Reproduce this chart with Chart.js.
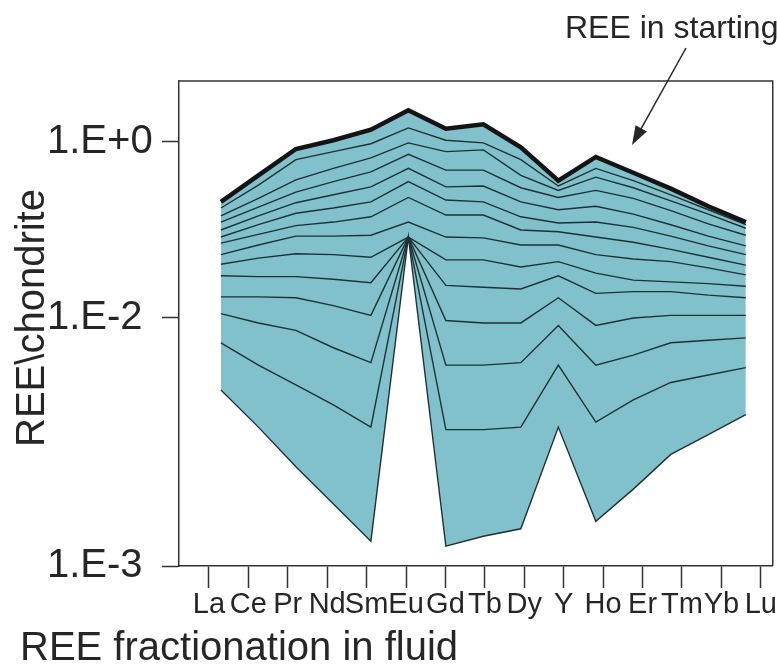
<!DOCTYPE html>
<html lang="en">
<head>
<meta charset="UTF-8">
<title>REE fractionation in fluid</title>
<script src="https://cdn.jsdelivr.net/npm/chart.js@4.4.1/dist/chart.umd.min.js"></script>
<style>
  html, body { margin: 0; padding: 0; background: #fff; }
  #wrap { width: 777px; height: 669px; }
</style>
</head>
<body>
<div id="wrap"><canvas id="myChart" width="777" height="669"></canvas></div>
<script>
// elements on the x axis
var elements = ['La', 'Ce', 'Pr', 'Nd', 'Sm', 'Eu', 'Gd', 'Tb', 'Dy', 'Y', 'Ho', 'Er', 'Tm', 'Yb', 'Lu'];

// log10(REE/chondrite)
var startingFluid = [-0.68, -0.38, -0.08, 0.02, 0.14, 0.36, 0.15, 0.20, -0.06, -0.44, -0.17, -0.35, -0.53, -0.73, -0.91];
var step1  = [-0.75, -0.49, -0.20, -0.11, -0.02, 0.16, 0.02, -0.01, -0.20, -0.50, -0.30, -0.44, -0.60, -0.77, -0.94];
var step2  = [-0.84, -0.64, -0.43, -0.30, -0.18, -0.01, -0.11, -0.09, -0.38, -0.55, -0.40, -0.52, -0.67, -0.82, -0.98];
var step3  = [-0.91, -0.74, -0.57, -0.45, -0.34, -0.14, -0.32, -0.32, -0.52, -0.63, -0.55, -0.64, -0.78, -0.93, -1.06];
var step4  = [-1.00, -0.84, -0.69, -0.60, -0.51, -0.30, -0.51, -0.50, -0.68, -0.77, -0.73, -0.82, -0.94, -1.07, -1.18];
var step5  = [-1.08, -0.94, -0.81, -0.75, -0.68, -0.45, -0.66, -0.68, -0.85, -0.92, -0.91, -0.97, -1.07, -1.18, -1.28];
var step6  = [-1.15, -1.05, -0.95, -0.91, -0.85, -0.63, -0.83, -0.83, -1.00, -1.02, -1.08, -1.14, -1.22, -1.31, -1.40];
var step7  = [-1.28, -1.17, -1.07, -1.07, -1.06, -0.91, -1.08, -1.09, -1.17, -1.17, -1.28, -1.33, -1.36, -1.43, -1.51];
var step8  = [-1.39, -1.32, -1.27, -1.28, -1.31, -1.08, -1.34, -1.34, -1.42, -1.36, -1.49, -1.57, -1.59, -1.61, -1.64];
var step9  = [-1.52, -1.53, -1.53, -1.56, -1.60, -1.08, -1.63, -1.65, -1.67, -1.52, -1.72, -1.70, -1.70, -1.74, -1.77];
var step10 = [-1.76, -1.76, -1.77, -1.86, -1.97, -1.08, -2.01, -2.02, -2.02, -1.77, -2.03, -2.00, -1.97, -1.97, -1.97];
var step11 = [-1.95, -2.02, -2.05, -2.12, -2.18, -1.08, -2.19, -2.19, -2.18, -2.03, -2.19, -2.15, -2.10, -2.09, -2.08];
var step12 = [-2.10, -2.19, -2.27, -2.35, -2.44, -1.08, -2.45, -2.45, -2.44, -2.19, -2.42, -2.33, -2.26, -2.23, -2.20];
var lastStep = [-2.29, -2.44, -2.60, -2.75, -2.90, -1.08, -2.92, -2.88, -2.85, -2.44, -2.82, -2.69, -2.55, -2.47, -2.39];

var yTickValues = [-3, -2, 0];
var yTickLabels = ['1.E-3', '1.E-2', '1.E+0'];

// the figure draws the 1E-2..1E-3 decade much taller than the upper ones
var LOW_STRETCH = 248 / 88;
function toAxis(v) {
    return v >= -2 ? v : -2 + (v + 2) * LOW_STRETCH;
}

var steps = [step1, step2, step3, step4, step5, step6, step7, step8, step9, step10, step11, step12];
var fillColor = '#80c1cb';
var lineColor = '#1e3236';
var font = 'Liberation Sans, Arial, sans-serif';

function pts(arr) {
    return arr.map(function (v, i) { return {x: i, y: toAxis(v)}; });
}

var datasets = [];
datasets.push({
    data: pts(startingFluid),
    borderColor: '#141414',
    borderWidth: 4.5,
    backgroundColor: fillColor,
    fill: steps.length + 1
});
steps.forEach(function (s) {
    datasets.push({data: pts(s), borderColor: lineColor, borderWidth: 1.4, fill: false});
});
datasets.push({data: pts(lastStep), borderColor: lineColor, borderWidth: 1.4, fill: false});
datasets.forEach(function (d) {
    d.xAxisID = 'x';
    d.yAxisID = 'y';
    d.pointRadius = 0;
    d.tension = 0;
    d.borderJoinStyle = 'miter';
});

var extras = {
    id: 'extras',
    afterDraw: function (chart) {
        var c = chart.ctx, a = chart.chartArea;
        c.save();
        // top and right side of the frame
        c.strokeStyle = '#333';
        c.lineWidth = 1.5;
        c.beginPath();
        c.moveTo(a.left, a.top);
        c.lineTo(a.right, a.top);
        c.lineTo(a.right, a.bottom);
        c.stroke();

        c.fillStyle = '#262626';
        c.font = '40px ' + font;
        c.textBaseline = 'alphabetic';
        c.textAlign = 'left';
        c.fillText('REE fractionation in fluid', 20, 660);

        c.save();
        c.translate(44, 318);
        c.rotate(-Math.PI / 2);
        c.textAlign = 'center';
        c.fillText('REE\\chondrite', 0, 0);
        c.restore();

        c.font = '32px ' + font;
        c.fillText('REE in starting', 565, 38);

        // arrow
        var x0 = 686, y0 = 48, x1 = 632, y1 = 145;
        var dx = x1 - x0, dy = y1 - y0, len = Math.sqrt(dx * dx + dy * dy);
        var ux = dx / len, uy = dy / len;
        c.strokeStyle = '#262626';
        c.lineWidth = 1.5;
        c.beginPath();
        c.moveTo(x0, y0);
        c.lineTo(x1 - ux * 14, y1 - uy * 14);
        c.stroke();
        c.beginPath();
        c.moveTo(x1, y1);
        c.lineTo(x1 - ux * 19 - uy * 6.5, y1 - uy * 19 + ux * 6.5);
        c.lineTo(x1 - ux * 19 + uy * 6.5, y1 - uy * 19 - ux * 6.5);
        c.closePath();
        c.fill();
        c.restore();
    }
};

new Chart(document.getElementById('myChart'), {
    type: 'line',
    data: {datasets: datasets},
    options: {
        responsive: false,
        animation: false,
        layout: {padding: {top: 81, right: 3, bottom: 0, left: 47}},
        plugins: {
            legend: {display: false},
            tooltip: {enabled: false},
            filler: {drawTime: 'beforeDatasetsDraw'}
        },
        scales: {
            x: {
                type: 'linear',
                display: false,
                min: -1.118,
                max: 14.719
            },
            xt: {
                type: 'linear',
                position: 'bottom',
                min: -0.7595,
                max: 14.3035,
                afterBuildTicks: function (s) {
                    s.ticks = elements.map(function (e, i) { return {value: i}; });
                },
                afterFit: function (s) { s.height = 103; },
                ticks: {
                    autoSkip: false,
                    maxRotation: 0,
                    padding: 0,
                    color: '#262626',
                    font: {family: font, size: 29},
                    callback: function (v, i) { return elements[i]; }
                },
                grid: {drawOnChartArea: false, tickLength: 22, tickColor: '#333', tickWidth: 1.5},
                border: {color: '#333', width: 1.5}
            },
            y: {
                type: 'linear',
                min: toAxis(-3),
                max: 0.693,
                afterBuildTicks: function (s) {
                    s.ticks = yTickValues.map(function (v) { return {value: toAxis(v)}; });
                },
                afterFit: function (s) { s.width = 132; },
                ticks: {
                    crossAlign: 'far',
                    padding: 10,
                    color: '#262626',
                    font: {family: font, size: 40},
                    callback: function (v, i) { return yTickLabels[i]; }
                },
                grid: {drawOnChartArea: false, tickLength: 17, tickColor: '#333', tickWidth: 1.5},
                border: {color: '#333', width: 1.5}
            }
        }
    },
    plugins: [extras]
});
</script>
</body>
</html>
